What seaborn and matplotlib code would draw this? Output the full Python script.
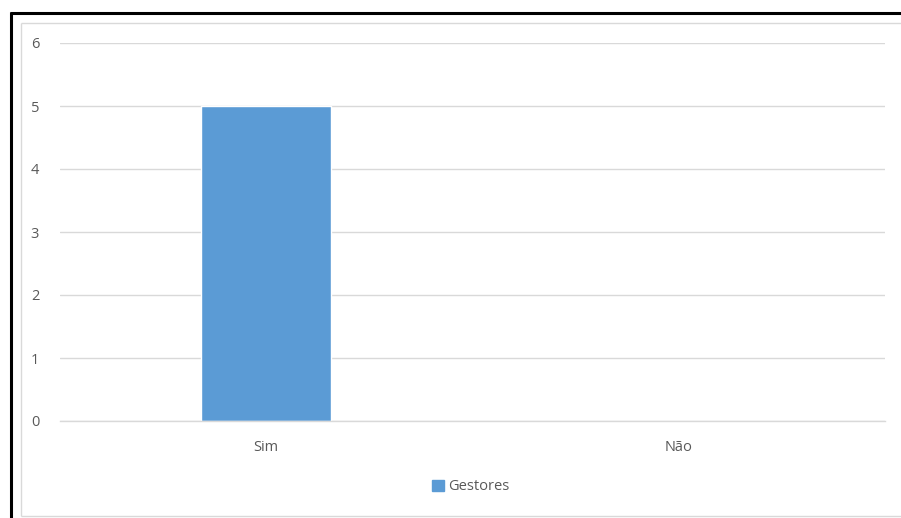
import matplotlib
matplotlib.use("Agg")
import matplotlib.pyplot as plt
import seaborn as sns
import pandas as pd
from matplotlib.lines import Line2D
from matplotlib.patches import Patch

categories = ["Sim", "Não"]
values = [5, 0]
series_name = "Gestores"
yticks = [0, 1, 2, 3, 4, 5, 6]

sns.set_theme(style="white")
plt.rcParams['font.family'] = ['Open Sans', 'DejaVu Sans']

W, H = 901, 518
fig = plt.figure(figsize=(W / 100, H / 100), dpi=100)
ax = fig.add_axes([60 / W, 1 - 421 / H, (885 - 60) / W, (421 - 43) / H])

df = pd.DataFrame({"cat": categories, "val": values, "series": series_name})
sns.barplot(data=df, x="cat", y="val", hue="series", palette=["#5B9BD5"],
            width=0.315, ax=ax, legend=False, saturation=1)

ax.set_ylim(0, 6)
ax.set_yticks(yticks)
ax.set_xlim(-0.5, 1.5)
ax.grid(axis="y", color="#D9D9D9", linewidth=1)
ax.set_axisbelow(True)
for s in ["top", "right", "left"]:
    ax.spines[s].set_visible(False)
ax.spines["bottom"].set_color("#D9D9D9")
ax.spines["bottom"].set_linewidth(1)
ax.tick_params(axis="both", length=0, labelsize=10.5, colors="#595959")
ax.tick_params(axis="y", pad=15)
ax.tick_params(axis="x", pad=14)
ax.set_xlabel("")
ax.set_ylabel("")

fig.legend(handles=[Patch(color="#5B9BD5", label=series_name)],
           loc="center", bbox_to_anchor=(471 / W, 1 - 487 / H), frameon=False,
           fontsize=10.5, labelcolor="#595959", handlelength=0.8, handleheight=0.8,
           handletextpad=0.3)

def fl(x0, y0, x1, y1, color, lw):
    fig.add_artist(Line2D([x0 / W, x1 / W], [1 - y0 / H, 1 - y1 / H],
                          transform=fig.transFigure, color=color, linewidth=lw,
                          solid_capstyle="butt"))

# chart area border (light gray)
fl(20.5, 22.5, 20.5, 515.5, "#D9D9D9", 1)
fl(20.5, 22.5, 901, 22.5, "#D9D9D9", 1)
fl(20.5, 515.5, 901, 515.5, "#D9D9D9", 1)
# black outer frame
fl(11, 12, 11, 518, "black", 2.2)
fl(10, 13, 901, 13, "black", 2.2)

fig.savefig("out.png", dpi=100, facecolor="white")
